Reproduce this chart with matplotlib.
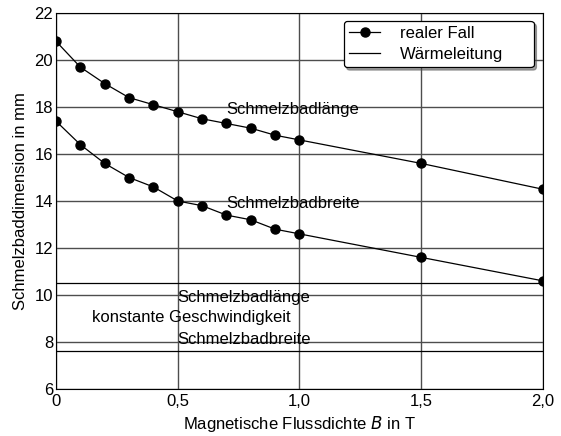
import numpy as np
import matplotlib.pyplot as plt

plt.rcParams['font.family'] = ['Liberation Sans', 'DejaVu Sans']
plt.rcParams['font.size'] = 12

# Flussdichte in T
B = [0, 0.1, 0.2, 0.3, 0.4, 0.5, 0.6, 0.7, 0.8, 0.9, 1.0, 1.5, 2.0]
laenge = [20.8, 19.7, 19.0, 18.4, 18.1, 17.8, 17.5, 17.3, 17.1, 16.8, 16.6, 15.6, 14.5]
breite = [17.4, 16.4, 15.6, 15.0, 14.6, 14.0, 13.8, 13.4, 13.2, 12.8, 12.6, 11.6, 10.6]

# Waermeleitung, konstante Geschwindigkeit
laenge_wl = 10.5
breite_wl = 7.6

fig = plt.figure(figsize=(5.61, 4.36), dpi=100)
ax = fig.add_axes([0.0998, 0.108, 0.868, 0.862])

ax.plot(B, laenge, 'k-o', lw=0.9, ms=6.5, label='realer Fall')
ax.plot(B, breite, 'k-o', lw=0.9, ms=6.5)
ax.axhline(laenge_wl, color='k', lw=0.9, label='Wärmeleitung')
ax.axhline(breite_wl, color='k', lw=0.9)

ax.set_xlim(0, 2)
ax.set_ylim(6, 22)
ax.set_xticks([0, 0.5, 1.0, 1.5, 2.0])
ax.set_xticklabels(['0', '0,5', '1,0', '1,5', '2,0'])
ax.set_yticks(np.arange(6, 23, 2))
ax.grid(True, color='0.3', lw=1.0)
ax.set_axisbelow(True)
ax.tick_params(axis='x', length=0, pad=4)
ax.tick_params(axis='y', length=0, pad=2)

ax.set_xlabel('Magnetische Flussdichte $B$ in T', labelpad=3)
ax.set_ylabel('Schmelzbaddimension in mm', labelpad=5)

ax.text(0.70, 17.9, 'Schmelzbadlänge', va='center')
ax.text(0.70, 13.9, 'Schmelzbadbreite', va='center')
ax.text(0.50, 9.9, 'Schmelzbadlänge', va='center')
ax.text(0.148, 9.05, 'konstante Geschwindigkeit', va='center')
ax.text(0.50, 8.1, 'Schmelzbadbreite', va='center')

# Legende auf feste Breite gestreckt
leg = ax.legend(loc='upper left', bbox_to_anchor=(0.591, 0.879, 0.390, 0.1),
                mode='expand', borderaxespad=0, shadow=True, fancybox=True,
                edgecolor='k', framealpha=1, handlelength=1.9, handletextpad=1.15,
                borderpad=0.3, labelspacing=0.38)
leg.get_frame().set_linewidth(0.9)

fig.savefig('out.png', dpi=100)
